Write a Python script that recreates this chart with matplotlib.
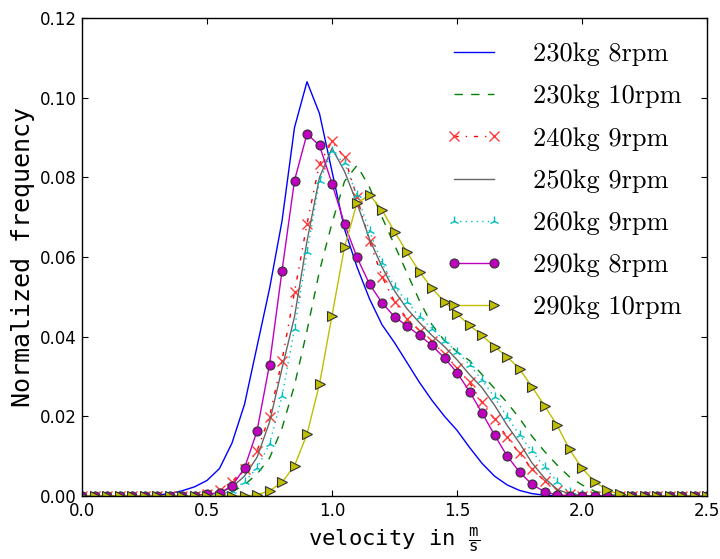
import numpy as np
import matplotlib
matplotlib.use("Agg")
import matplotlib.pyplot as plt

# Velocity bins (m/s)
velocity = [round(0.05 * i, 2) for i in range(51)]

# Normalized frequency per configuration
freq_230kg_8rpm = [
    0, 0, 0, 0, 0, 0, 0.0002, 0.0006, 0.0013, 0.0023,
    0.0039, 0.0069, 0.0133, 0.0230, 0.0375, 0.0520, 0.0690, 0.0925, 0.1040, 0.0960,
    0.0815, 0.0670, 0.0575, 0.0495, 0.0430, 0.0385, 0.0335, 0.0285, 0.0240, 0.0200,
    0.0165, 0.0122, 0.0082, 0.0050, 0.0028, 0.0014, 0.0006, 0.0002, 0.0001, 0,
    0, 0, 0, 0, 0, 0, 0, 0, 0, 0, 0]
freq_230kg_10rpm = [
    0, 0, 0, 0, 0, 0, 0, 0, 0, 0,
    0.0002, 0.0004, 0.0010, 0.0028, 0.0055, 0.0095, 0.0170, 0.0278, 0.0415, 0.0565,
    0.0685, 0.0790, 0.0830, 0.0775, 0.0700, 0.0630, 0.0560, 0.0490, 0.0430, 0.0390,
    0.0362, 0.0340, 0.0305, 0.0270, 0.0235, 0.0195, 0.0150, 0.0112, 0.0078, 0.0048,
    0.0028, 0.0012, 0.0004, 0.0001, 0, 0, 0, 0, 0, 0, 0]
freq_240kg_9rpm = [
    0, 0, 0, 0, 0, 0, 0, 0, 0, 0.0001,
    0.0004, 0.0015, 0.0036, 0.0068, 0.0113, 0.0199, 0.0340, 0.0512, 0.0683, 0.0834,
    0.0890, 0.0850, 0.0750, 0.0640, 0.0551, 0.0488, 0.0445, 0.0415, 0.0388, 0.0357,
    0.0322, 0.0285, 0.0235, 0.0193, 0.0148, 0.0107, 0.0068, 0.0038, 0.0016, 0.0004,
    0.0001, 0, 0, 0, 0, 0, 0, 0, 0, 0, 0]
freq_250kg_9rpm = [
    0, 0, 0, 0, 0, 0, 0, 0, 0, 0,
    0.0002, 0.0008, 0.0022, 0.0050, 0.0097, 0.0185, 0.0320, 0.0450, 0.0640, 0.0800,
    0.0873, 0.0815, 0.0735, 0.0645, 0.0575, 0.0515, 0.0470, 0.0435, 0.0403, 0.0375,
    0.0342, 0.0305, 0.0272, 0.0228, 0.0178, 0.0133, 0.0083, 0.0045, 0.0017, 0.0005,
    0.0001, 0, 0, 0, 0, 0, 0, 0, 0, 0, 0]
freq_260kg_9rpm = [
    0, 0, 0, 0, 0, 0, 0, 0, 0, 0,
    0, 0.0004, 0.0013, 0.0036, 0.0070, 0.0130, 0.0250, 0.0420, 0.0612, 0.0790,
    0.0865, 0.0835, 0.0755, 0.0665, 0.0585, 0.0525, 0.0488, 0.0450, 0.0420, 0.0390,
    0.0362, 0.0330, 0.0291, 0.0248, 0.0199, 0.0153, 0.0112, 0.0074, 0.0036, 0.0009,
    0.0002, 0, 0, 0, 0, 0, 0, 0, 0, 0, 0]
freq_290kg_8rpm = [
    0, 0, 0, 0, 0, 0, 0, 0, 0, 0,
    0.0005, 0.0008, 0.0025, 0.0070, 0.0163, 0.0330, 0.0565, 0.0792, 0.0909, 0.0880,
    0.0784, 0.0683, 0.0599, 0.0532, 0.0485, 0.0450, 0.0427, 0.0403, 0.0378, 0.0346,
    0.0310, 0.0262, 0.0209, 0.0153, 0.0101, 0.0060, 0.0029, 0.0011, 0.0003, 0.0001,
    0, 0, 0, 0, 0, 0, 0, 0, 0, 0, 0]
freq_290kg_10rpm = [
    0, 0, 0, 0, 0, 0, 0, 0, 0, 0,
    0, 0, 0, 0, 0.0003, 0.0013, 0.0034, 0.0076, 0.0155, 0.0281,
    0.0453, 0.0625, 0.0735, 0.0756, 0.0718, 0.0664, 0.0612, 0.0563, 0.0521, 0.0488,
    0.0457, 0.0429, 0.0403, 0.0375, 0.0350, 0.0319, 0.0274, 0.0227, 0.0178, 0.0117,
    0.0070, 0.0036, 0.0015, 0.0004, 0.0001, 0, 0, 0, 0, 0, 0]

labels = ["230kg 8rpm", "230kg 10rpm", "240kg 9rpm", "250kg 9rpm",
          "260kg 9rpm", "290kg 8rpm", "290kg 10rpm"]

xticks = [0.0, 0.5, 1.0, 1.5, 2.0, 2.5]
yticks = [0.00, 0.02, 0.04, 0.06, 0.08, 0.10, 0.12]

plt.rcParams.update({
    "font.size": 12,
    "lines.linewidth": 1.0,
    "lines.scale_dashes": False,
    "lines.dashed_pattern": [6, 6],
    "lines.dashdot_pattern": [3, 5, 1, 5],
    "lines.dotted_pattern": [1, 3],
    "xtick.direction": "in",
    "ytick.direction": "in",
    "xtick.top": True,
    "ytick.right": True,
    "xtick.major.size": 4,
    "ytick.major.size": 4,
    "xtick.major.pad": 4,
    "ytick.major.pad": 4,
    "axes.linewidth": 1.0,
    "mathtext.fontset": "dejavusans",
})

fig = plt.figure(figsize=(7.2, 5.59), dpi=100, facecolor="white")
ax = fig.add_axes([82 / 720, 63 / 559, 625 / 720, 478 / 559])

x = np.array(velocity)
ax.plot(x, freq_230kg_8rpm, color="#0000ff", linestyle="-", label=labels[0])
ax.plot(x, freq_230kg_10rpm, color="#008000", linestyle="--", label=labels[1])
ax.plot(x, freq_240kg_9rpm, color="#ff0000", linestyle="-.", marker="x",
        markersize=6.5, markeredgewidth=1.0, markeredgecolor="#ff3a3a",
        label=labels[2])
ax.plot(x, freq_250kg_9rpm, color="#666666", linestyle="-", label=labels[3])
ax.plot(x, freq_260kg_9rpm, color="#00bfbf", linestyle=":", marker="2",
        markersize=7, markeredgewidth=1.0, label=labels[4])
ax.plot(x, freq_290kg_8rpm, color="#bf00bf", linestyle="-", marker="o",
        markersize=6.5, markeredgecolor="#333333", markeredgewidth=0.8,
        label=labels[5])
ax.plot(x, freq_290kg_10rpm, color="#bfbf00", linestyle="-", marker=">",
        markersize=7, markeredgecolor="#333333", markeredgewidth=0.8,
        label=labels[6])

ax.set_xlim(0, 2.5)
ax.set_ylim(0, 0.12)
ax.set_xticks(xticks)
ax.set_yticks(yticks)
ax.set_xticklabels([f"{t:.1f}" for t in xticks])
ax.set_yticklabels([f"{t:.2f}" for t in yticks])

ax.set_ylabel("Normalized frequency", family="DejaVu Sans Mono", fontsize=18,
              labelpad=3)
ax.set_xlabel(r"velocity in $\frac{\mathtt{m}}{\mathtt{s}}$",
              family="DejaVu Sans Mono", fontsize=16, labelpad=4)

ax.legend(loc="upper right", bbox_to_anchor=(0.977, 0.971), frameon=False,
          numpoints=2, prop={"family": "cmr10", "size": 19},
          handlelength=2.12, handletextpad=1.18, labelspacing=0.70,
          borderaxespad=0.0)

fig.savefig("out.png", dpi=100, facecolor="white")
